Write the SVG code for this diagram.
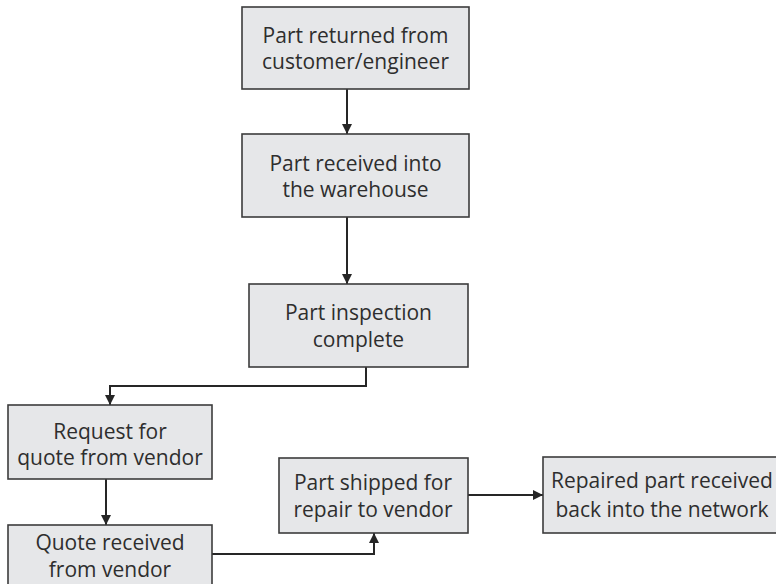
<svg xmlns="http://www.w3.org/2000/svg" width="776" height="584" viewBox="0 0 776 584">
  <style>
    .box { fill: #e6e7e9; stroke: #3c3c3c; stroke-width: 1.6; }
    .lbl { font-family: "Open Sans", "Liberation Sans", sans-serif; font-size: 21px; fill: #2e2e2e; text-anchor: middle; }
    .wire { fill: none; stroke: #262626; stroke-width: 2; marker-end: url(#arrow); }
  </style>
  <defs>
    <marker id="arrow" viewBox="0 0 10 10" refX="10" refY="5" markerWidth="5" markerHeight="5" markerUnits="strokeWidth" orient="auto">
      <path d="M0,0 L10,5 L0,10 z" fill="#262626"/>
    </marker>
  </defs>
  <rect width="776" height="584" fill="#ffffff"/>

  <g id="connectors">
    <path class="wire" d="M347,89 V134"/>
    <path class="wire" d="M347,217 V284"/>
    <path class="wire" d="M366,367 V386 H110 V405"/>
    <path class="wire" d="M106,479 V525"/>
    <path class="wire" d="M212,554 H374 V533"/>
    <path class="wire" d="M468,495 H543"/>
  </g>

  <g id="returned">
    <rect class="box" x="242" y="7" width="227" height="82"/>
    <text class="lbl" x="355.5" y="43">Part returned from</text>
    <text class="lbl" x="355.5" y="69">customer/engineer</text>
  </g>
  <g id="received">
    <rect class="box" x="242" y="134" width="227" height="83"/>
    <text class="lbl" x="355.5" y="171">Part received into</text>
    <text class="lbl" x="355.5" y="197">the warehouse</text>
  </g>
  <g id="inspection">
    <rect class="box" x="249" y="284" width="219" height="83"/>
    <text class="lbl" x="358.5" y="320">Part inspection</text>
    <text class="lbl" x="358.5" y="347">complete</text>
  </g>
  <g id="request">
    <rect class="box" x="8" y="405" width="204" height="74"/>
    <text class="lbl" x="110" y="439">Request for</text>
    <text class="lbl" x="110" y="465">quote from vendor</text>
  </g>
  <g id="quote">
    <rect class="box" x="8" y="525" width="204" height="70"/>
    <text class="lbl" x="110" y="550">Quote received</text>
    <text class="lbl" x="110" y="577">from vendor</text>
  </g>
  <g id="shipped">
    <rect class="box" x="279" y="458" width="189" height="75"/>
    <text class="lbl" x="373" y="490">Part shipped for</text>
    <text class="lbl" x="373" y="517">repair to vendor</text>
  </g>
  <g id="repaired">
    <rect class="box" x="543" y="457" width="250" height="76"/>
    <text class="lbl" x="662" y="488">Repaired part received</text>
    <text class="lbl" x="662" y="517">back into the network</text>
  </g>
</svg>
